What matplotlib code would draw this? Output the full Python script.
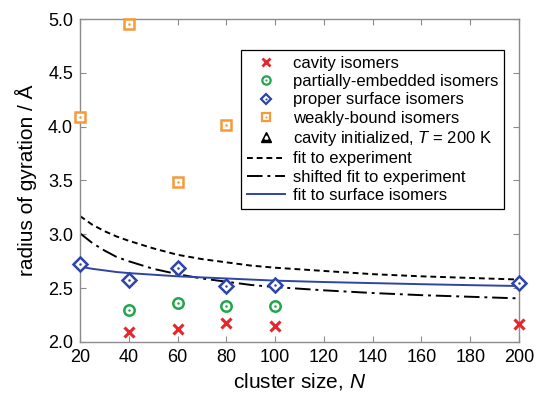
#!/usr/bin/env python3
"""Radius of gyration vs cluster size."""
import matplotlib
matplotlib.use("Agg")
import matplotlib.pyplot as plt
from matplotlib.legend_handler import HandlerTuple
from matplotlib.lines import Line2D

plt.rcParams["font.family"] = ["Liberation Sans", "DejaVu Sans"]
plt.rcParams["mathtext.fontset"] = "custom"
plt.rcParams["mathtext.it"] = "Liberation Sans:italic"
plt.rcParams["mathtext.rm"] = "Liberation Sans"

RED = "#E8252B"
GREEN = "#21A64B"
BLUE = "#2F45A5"
ORANGE = "#F49A38"
SPINE = "#8C8C8C"

# data
cav_n = [40, 60, 80, 100, 200]
cav_r = [2.09, 2.12, 2.18, 2.15, 2.17]
part_n = [40, 60, 80, 100]
part_r = [2.30, 2.36, 2.33, 2.33]
surf_n = [20, 40, 60, 80, 100, 200]
surf_r = [2.72, 2.58, 2.69, 2.52, 2.53, 2.55]
weak_n = [20, 40, 60, 80]
weak_r = [4.09, 4.95, 3.49, 4.02]

fit_n = [20, 25, 30, 35, 40, 50, 60, 70, 80, 90, 100, 120, 140, 160, 180, 200]
fit_exp = [3.17, 3.09, 3.03, 2.98, 2.94, 2.87, 2.81, 2.77, 2.74, 2.71, 2.69, 2.66, 2.63, 2.61, 2.595, 2.58]
fit_shift = [3.01, 2.92, 2.85, 2.79, 2.75, 2.68, 2.63, 2.59, 2.56, 2.53, 2.51, 2.48, 2.455, 2.435, 2.42, 2.405]
fit_surf = [2.70, 2.68, 2.665, 2.65, 2.64, 2.625, 2.61, 2.60, 2.59, 2.58, 2.57, 2.557, 2.547, 2.537, 2.528, 2.52]

x_ticks = [20, 40, 60, 80, 100, 120, 140, 160, 180, 200]
y_ticks = [2.0, 2.5, 3.0, 3.5, 4.0, 4.5, 5.0]

fig = plt.figure(figsize=(5.36, 3.98), dpi=100)
ax = fig.add_axes([80 / 536, 1 - 342 / 398, 439 / 536, 323 / 398])

l_exp, = ax.plot(fit_n, fit_exp, color="black", lw=1.4, ls=(0, (3, 2)), zorder=2)
l_shift, = ax.plot(fit_n, fit_shift, color="black", lw=1.4, ls=(0, (8, 2.5, 1.5, 2.5)), zorder=2)
l_surf, = ax.plot(fit_n, fit_surf, color=BLUE, lw=1.4, zorder=2)

ax.plot(cav_n, cav_r, ls="none", marker="x", ms=7, mew=2.2, color=RED, clip_on=False, zorder=4)

ax.plot(part_n, part_r, ls="none", marker="o", ms=7.5, mew=1.8, mfc="none", mec=GREEN, clip_on=False, zorder=4)
ax.plot(part_n, part_r, ls="none", marker="o", ms=1.8, mew=0, color=GREEN, clip_on=False, zorder=4)

ax.plot(surf_n, surf_r, ls="none", marker="D", ms=7, mew=1.8, mfc="white", mec=BLUE, clip_on=False, zorder=4)
ax.plot(surf_n, surf_r, ls="none", marker="o", ms=1.8, mew=0, color=BLUE, clip_on=False, zorder=4)

ax.plot(weak_n, weak_r, ls="none", marker="s", ms=7.5, mew=1.8, mfc="white", mec=ORANGE, clip_on=False, zorder=4)
ax.plot(weak_n, weak_r, ls="none", marker="o", ms=1.8, mew=0, color=ORANGE, clip_on=False, zorder=4)

ax.set_xlim(20, 200)
ax.set_ylim(2.0, 5.0)
ax.set_xticks(x_ticks)
ax.set_yticks(y_ticks)
ax.set_yticklabels([f"{v:.1f}" for v in y_ticks])
ax.tick_params(direction="in", top=True, right=True, labelsize=13, color=SPINE, length=4, pad=5)
for spine in ax.spines.values():
    spine.set_color(SPINE)
    spine.set_linewidth(1.0)

ax.set_xlabel("cluster size, $N$", fontsize=15, labelpad=4)
ax.set_ylabel("radius of gyration / Å", fontsize=15, labelpad=8)


def dot(color):
    return Line2D([], [], ls="none", marker="o", ms=1.5, mew=0, color=color)


lg_cav = Line2D([], [], ls="none", marker="x", ms=5.5, mew=2.0, color=RED)
lg_part = Line2D([], [], ls="none", marker="o", ms=6, mew=1.6, mfc="none", mec=GREEN)
lg_surf = Line2D([], [], ls="none", marker="D", ms=5.5, mew=1.6, mfc="white", mec=BLUE)
lg_weak = Line2D([], [], ls="none", marker="s", ms=6, mew=1.6, mfc="white", mec=ORANGE)
lg_tri = Line2D([], [], ls="none", marker="^", ms=7, color="black")
lg_tri_in = Line2D([], [], ls="none", marker="^", ms=2.2, color="white")

handles = [
    lg_cav,
    (lg_part, dot(GREEN)),
    (lg_surf, dot(BLUE)),
    (lg_weak, dot(ORANGE)),
    (lg_tri, lg_tri_in),
    l_exp,
    l_shift,
    l_surf,
]
labels = [
    "cavity isomers",
    "partially-embedded isomers",
    "proper surface isomers",
    "weakly-bound isomers",
    "cavity initialized, $T$ = 200 K",
    "fit to experiment",
    "shifted fit to experiment",
    "fit to surface isomers",
]
leg = ax.legend(
    handles,
    labels,
    handler_map={tuple: HandlerTuple(ndivide=1, pad=0)},
    loc="upper right",
    bbox_to_anchor=(0.985, 0.93),
    fontsize=12,
    frameon=True,
    fancybox=False,
    edgecolor="black",
    framealpha=1,
    labelspacing=0.2,
    handlelength=2.3,
    handletextpad=0.45,
    borderpad=0.35,
)
leg.get_frame().set_linewidth(0.9)

fig.savefig("out.png", dpi=100)
